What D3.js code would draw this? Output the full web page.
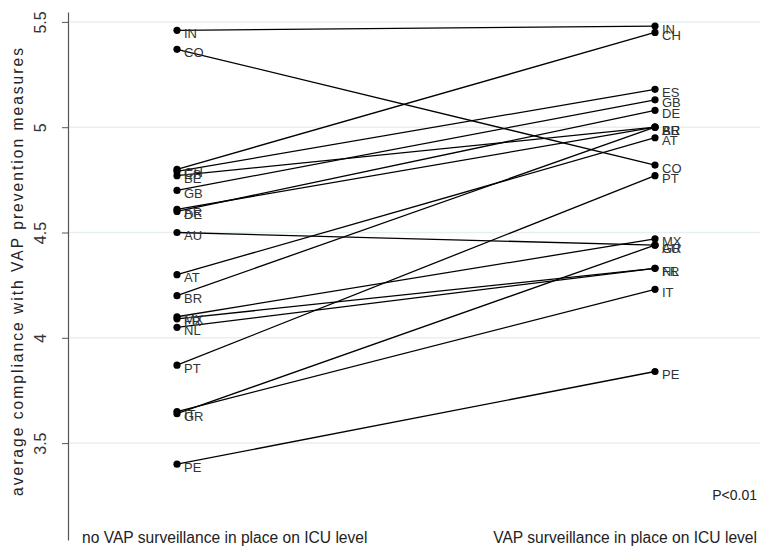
<!DOCTYPE html>
<html>
<head>
<meta charset="utf-8">
<script src="https://cdn.jsdelivr.net/npm/d3@7"></script>
<style>
  html, body { margin: 0; padding: 0; background: #fff; }
  svg { display: block; font-family: "Liberation Sans", Arial, sans-serif; }
</style>
</head>
<body>
<svg id="chart" width="771" height="546"></svg>
<script>
// ---- data ----
const groups = ["no VAP surveillance in place on ICU level", "VAP surveillance in place on ICU level"];
const countries = ["IN", "CO", "CH", "ES", "BE", "GB", "AR", "DE", "AU", "AT", "BR", "MX", "FR", "NL", "PT", "IT", "GR", "PE"];
const noSurveillance = [5.46, 5.37, 4.80, 4.79, 4.77, 4.70, 4.61, 4.60, 4.50, 4.30, 4.20, 4.10, 4.09, 4.05, 3.87, 3.65, 3.64, 3.40];
const withSurveillance = [5.48, 4.82, 5.45, 5.18, 5.0, 5.13, 5.0, 5.08, 4.44, 4.95, 5.0, 4.47, 4.33, 4.33, 4.77, 4.23, 4.44, 3.84];
const yTicks = [3.5, 4, 4.5, 5, 5.5];
const yTitle = "average compliance with VAP prevention measures";
const pText = "P<0.01";

// ---- layout ----
const svg = d3.select("#chart");
const axisX = 68;
const y = d3.scaleLinear().domain([3.04, 5.547]).range([540, 12]);
const x = d3.scalePoint().domain(groups).range([177, 655]);

// gridlines
svg.append("g").selectAll("line").data(yTicks).join("line")
  .attr("x1", axisX).attr("x2", 760)
  .attr("y1", d => y(d)).attr("y2", d => y(d))
  .attr("stroke", "#e6eff1").attr("stroke-width", 1.5);

// y axis
const yAxis = d3.axisLeft(y).tickValues(yTicks).tickSize(6).tickSizeOuter(0).tickFormat(d3.format("~g"));
const gy = svg.append("g").attr("transform", `translate(${axisX},0)`).call(yAxis);
gy.select(".domain").attr("stroke", "#555").attr("stroke-width", 1.2);
gy.selectAll(".tick line").attr("stroke", "#555");
gy.selectAll(".tick text")
  .attr("text-anchor", "middle")
  .attr("font-size", 16).attr("fill", "#333")
  .attr("font-family", "Liberation Sans, Arial, sans-serif")
  .attr("transform", "translate(-28,0) rotate(-90)")
  .attr("x", 0).attr("y", 0).attr("dy", "0.35em");

// y title
svg.append("text")
  .attr("transform", `translate(18,${272}) rotate(-90)`)
  .attr("text-anchor", "middle").attr("dy", "0.35em")
  .attr("font-size", 15.6).attr("fill", "#222")
  .attr("textLength", 448).attr("lengthAdjust", "spacing")
  .text(yTitle);

// lines
const data = countries.map((c, i) => ({ c, a: noSurveillance[i], b: withSurveillance[i] }));
svg.append("g").selectAll("line").data(data).join("line")
  .attr("x1", x(groups[0])).attr("x2", x(groups[1]))
  .attr("y1", d => y(d.a)).attr("y2", d => y(d.b))
  .attr("stroke", "#000").attr("stroke-width", 1.3);

// dots
const dotG = svg.append("g");
[["a", 0], ["b", 1]].forEach(([k, gi]) => {
  dotG.selectAll(null).data(data).join("circle")
    .attr("cx", x(groups[gi])).attr("cy", d => y(d[k])).attr("r", 3.6).attr("fill", "#000");
  dotG.selectAll(null).data(data).join("text")
    .attr("x", x(groups[gi]) + 7).attr("y", d => y(d[k]) + 3)
    .attr("dy", "0.35em").attr("font-size", 13).attr("fill", "#333")
    .text(d => d.c);
});

// category labels
svg.append("text").attr("x", 82).attr("y", 543).attr("font-size", 15.6).attr("fill", "#222").text(groups[0]);
svg.append("text").attr("x", 757).attr("y", 543).attr("text-anchor", "end").attr("font-size", 15.6).attr("fill", "#222").text(groups[1]);

// p-value
svg.append("text").attr("x", 757).attr("y", 500).attr("text-anchor", "end").attr("font-size", 14).attr("fill", "#222").text(pText);
</script>
</body>
</html>
